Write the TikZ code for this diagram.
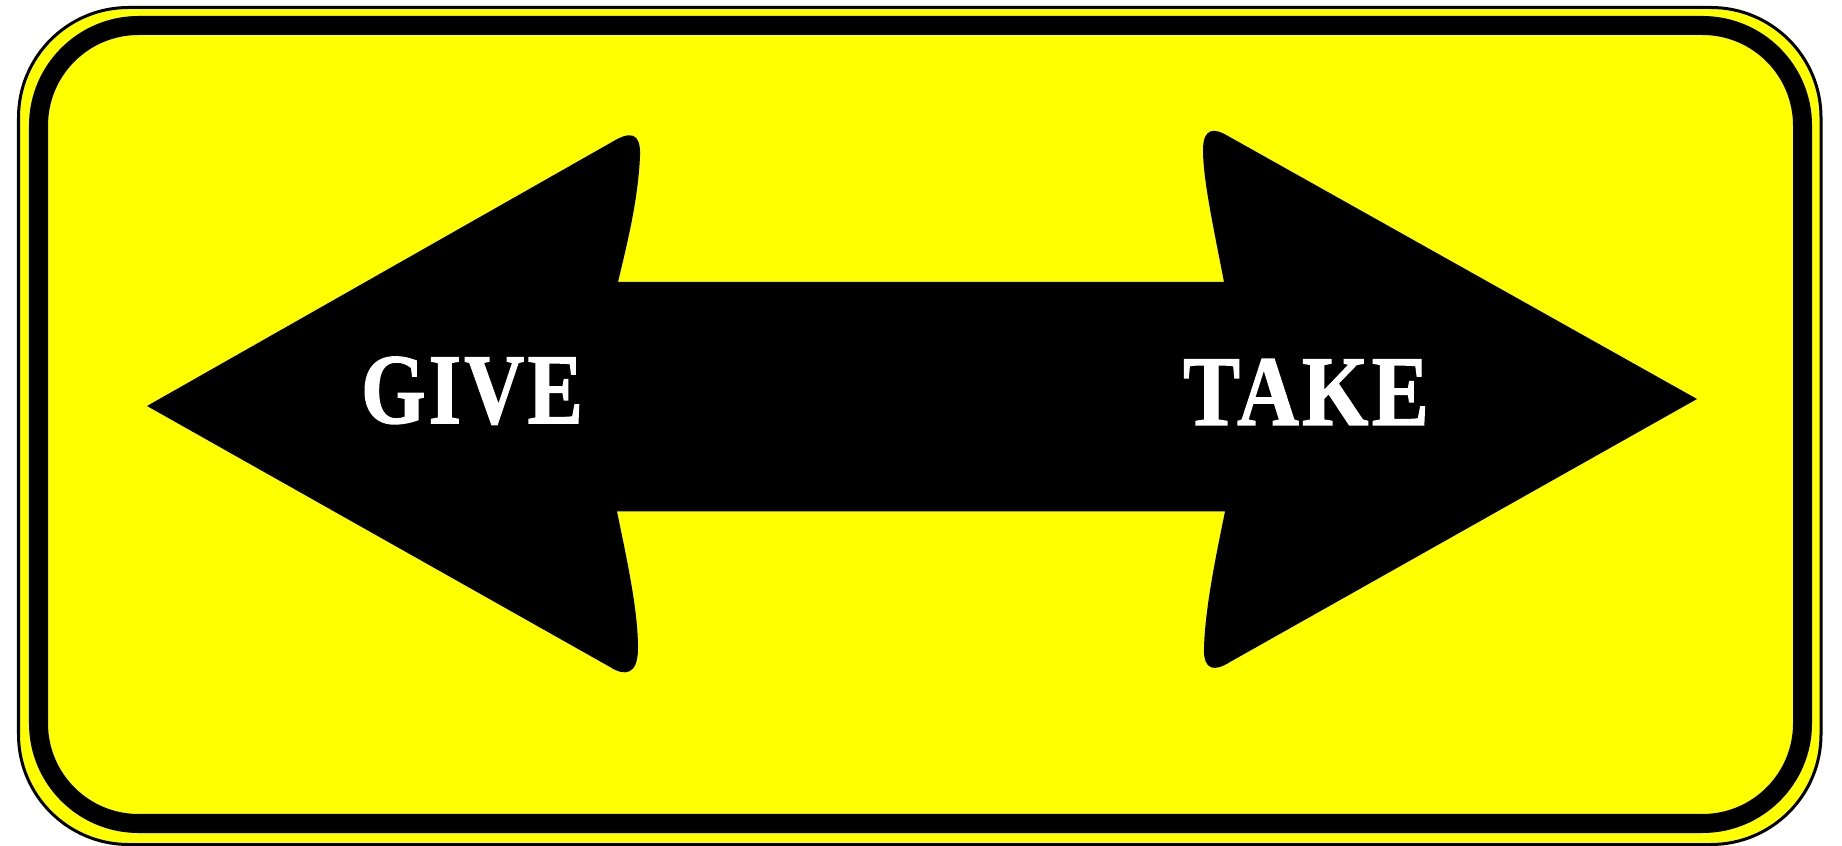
\documentclass[tikz,border=0pt]{standalone}
\usepackage{fontspec}
\newfontfamily\signfont{Liberation Serif}[BoldFeatures={FakeBold=1.5, LetterSpace=4}]
\definecolor{signyellow}{RGB}{255,255,0}

\begin{document}
\begin{tikzpicture}[x=0.01cm,y=-0.01cm]
\tikzset{signword/.style={text=white, font=\signfont\bfseries\fontsize{28.4}{32}\selectfont, inner sep=0pt, anchor=base, xscale=0.83}}
\useasboundingbox (0,0) rectangle (1842,846);
% rim and inner band
\draw[fill=signyellow, line width=0.03cm, rounded corners=1.1cm] (18.5,7.5) rectangle (1821,844.5);
\draw[line width=0.19cm, rounded corners=1cm] (38.5,25.5) rectangle (1802.5,823.5);
% double arrow
\fill (147,406) -- (612,142) .. controls (630,131) and (641,132) .. (640,156)
  .. controls (638,200) and (628,240) .. (618,282) -- (1224,282)
  .. controls (1214,230) and (1203,180) .. (1203,150)
  .. controls (1203,127) and (1215,128) .. (1228,136) -- (1697,399)
  -- (1230,662) .. controls (1216,671) and (1203,672) .. (1204,648)
  .. controls (1205,610) and (1215,560) .. (1225,511.5) -- (617,511.5)
  .. controls (627,560) and (638,610) .. (638,648)
  .. controls (638,676) and (624,676) .. (610,667) -- cycle;
\node[signword] (give) at (472,423) {GIVE};
\node[signword, xscale=1.03] (take) at (1306,425) {TAKE};
\end{tikzpicture}
\end{document}
